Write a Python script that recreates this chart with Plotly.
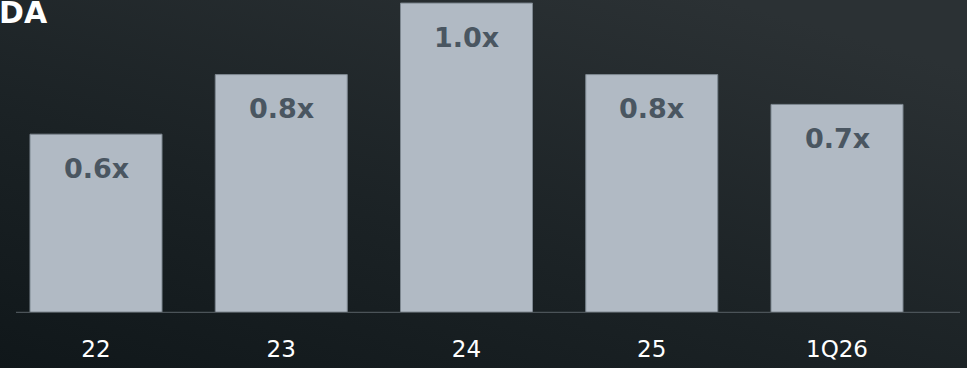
import base64
import plotly.graph_objects as go

categories = ["22", "23", "24", "25", "1Q26"]
values = [0.60, 0.80, 1.04, 0.80, 0.70]
labels = ["0.6x", "0.8x", "1.0x", "0.8x", "0.7x"]
title_text = "DA"

W, H = 967, 368
BAR = "#b1bac4"
LABEL = "#4a5661"

svg = f"""<svg xmlns='http://www.w3.org/2000/svg' width='{W}' height='{H}' preserveAspectRatio='none'>
<defs><linearGradient id='g' x1='0' y1='1' x2='0.75' y2='0'>
<stop offset='0' stop-color='#10171a'/>
<stop offset='0.45' stop-color='#1b2225'/>
<stop offset='1' stop-color='#2b3134'/>
</linearGradient></defs>
<rect width='{W}' height='{H}' fill='url(#g)'/></svg>"""
bg = "data:image/svg+xml;base64," + base64.b64encode(svg.encode()).decode()

scale = 298.0  # px per unit
base_px = 313
plot_h = base_px

fig = go.Figure()
fig.add_trace(go.Bar(
    x=categories, y=values,
    marker=dict(color=BAR, line=dict(color="#7d8790", width=1)),
    hoverinfo="skip",
))

for i, (v, t) in enumerate(zip(values, labels)):
    fig.add_annotation(x=i, y=v, xref="x", yref="y", text="<b>" + t + "</b>",
                       showarrow=False, yshift=-34, yanchor="middle",
                       font=dict(family="DejaVu Sans", size=27, color=LABEL))

fig.add_annotation(x=0, y=1, xref="paper", yref="paper", text="<b>" + title_text + "</b>",
                   showarrow=False, xanchor="left", yanchor="top", xshift=-3, yshift=7,
                   font=dict(family="DejaVu Sans", size=30, color="white"))

fig.add_shape(type="line", xref="paper", yref="y", x0=16 / W, x1=960 / W, y0=0, y1=0,
              line=dict(color="#4b5358", width=2.5), layer="above")

fig.add_layout_image(source=bg, xref="paper", yref="paper", x=0, y=1, sizex=1,
                     sizey=H / plot_h, xanchor="left", yanchor="top", sizing="stretch",
                     layer="below")

sp = 185.25
c0 = 96
fig.update_layout(
    width=W, height=H,
    margin=dict(l=0, r=0, t=0, b=H - base_px, pad=0),
    paper_bgcolor="#1a2124", plot_bgcolor="rgba(0,0,0,0)",
    showlegend=False, bargap=1 - 132 / sp,
    xaxis=dict(type="category", range=[-c0 / sp, (W - c0) / sp], showgrid=False,
               zeroline=False, showline=False, ticks="outside", ticklen=15,
               tickcolor="rgba(0,0,0,0)",
               tickfont=dict(family="DejaVu Sans", size=23, color="white")),
    yaxis=dict(range=[0, plot_h / scale], showgrid=False, zeroline=False,
               showticklabels=False, showline=False),
)

fig.write_html("out.html", config={"displayModeBar": False},
               post_script="document.body.style.margin='0';document.body.style.padding='0';document.body.style.overflow='hidden';")
